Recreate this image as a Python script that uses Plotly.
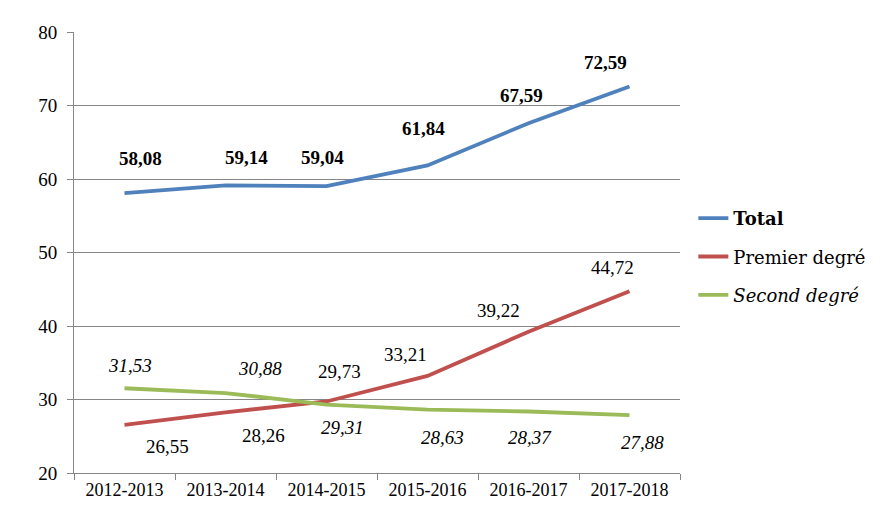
import plotly.graph_objects as go

categories = ["2012-2013", "2013-2014", "2014-2015", "2015-2016", "2016-2017", "2017-2018"]
total = [58.08, 59.14, 59.04, 61.84, 67.59, 72.59]
premier = [26.55, 28.26, 29.73, 33.21, 39.22, 44.72]
second = [31.53, 30.88, 29.31, 28.63, 28.37, 27.88]
y_ticks = [20, 30, 40, 50, 60, 70, 80]

FONT = "Liberation Serif"
FONT2 = "DejaVu Serif"

# label offsets (pixels) to mimic manually placed data labels
total_off = [(16, 35), (21, 28), (-4, 29), (-4, 37), (-7, 28), (-24, 24)]
premier_off = [(43, -22), (38, -23), (13, 30), (-22, 21), (-30, 21), (-17, 24)]
second_off = [(5, 23), (34, 25), (16, -23), (15, -28), (1, -26), (13, -27)]

series = [
    ("<b>Total</b>", total, "#4F81BD", total_off, "bold"),
    ("Premier degré", premier, "#C0504D", premier_off, "normal"),
    ("<i>Second degré</i>", second, "#9BBB59", second_off, "italic"),
]

fig = go.Figure()
annotations = []
for i, (name, vals, color, offs, style) in enumerate(series):
    fig.add_trace(go.Scatter(
        x=categories, y=vals, mode="lines", name=name,
        line=dict(color=color, width=3.8), legendgroup=f"g{i}",
        hoverinfo="skip",
    ))
    for c, v, (dx, dy) in zip(categories, vals, offs):
        txt = f"{v:.2f}".replace(".", ",")
        if style == "bold":
            txt = f"<b>{txt}</b>"
        elif style == "italic":
            txt = f"<i>{txt}</i>"
        annotations.append(dict(
            x=c, y=v, xref="x", yref="y", text=txt, showarrow=False,
            xshift=dx, yshift=dy, font=dict(family=FONT, size=19, color="#000000"),
        ))

fig.update_layout(
    width=886, height=517,
    margin=dict(l=66, r=214, t=24, b=52),
    paper_bgcolor="white", plot_bgcolor="white",
    font=dict(family=FONT, size=19, color="#000000"),
    annotations=annotations,
    showlegend=True,
    legend=dict(
        x=1.022, y=0.49, xanchor="left", yanchor="middle",
        font=dict(family=FONT2, size=18, color="#000000"),
        tracegroupgap=12, bgcolor="rgba(0,0,0,0)",
    ),
    xaxis=dict(
        type="category", showgrid=False, showline=True, linecolor="#868686", linewidth=1,
        ticks="outside", tickson="boundaries", ticklen=6, tickcolor="#868686",
        tickfont=dict(family=FONT, size=18), range=[-0.5, 5.5],
    ),
    yaxis=dict(
        range=[20, 80], tickvals=y_ticks, showgrid=True, gridcolor="#868686", gridwidth=1,
        showline=True, linecolor="#868686", linewidth=1, zeroline=False,
        ticks="outside", ticklen=6, tickcolor="#868686",
        tickfont=dict(family=FONT, size=19), ticklabelstandoff=6,
    ),
)

fig.write_html("out.html")
